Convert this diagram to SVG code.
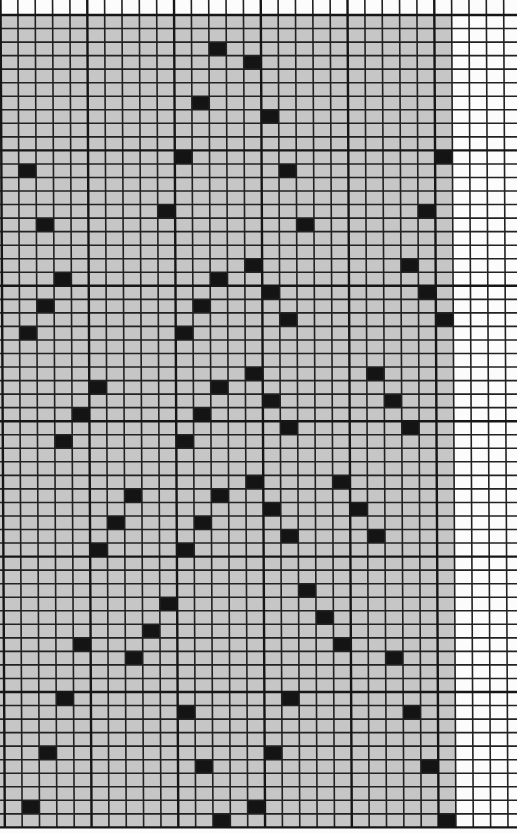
<svg xmlns="http://www.w3.org/2000/svg" width="517" height="833" viewBox="0 0 517 833">
<style>
.bg{fill:#fcfcfc}
.shade{fill:#c6c6c6}
.thin{stroke:#222;stroke-width:1.6;fill:none}
.thick{stroke:#161616;stroke-width:2.4;fill:none}
.k{fill:#141414}
</style>
<defs>
<rect id="cell" width="17.35" height="13.54"/>
</defs>
<rect class="bg" x="0" y="0" width="517" height="833"/>
<g id="grid" transform="skewX(0.3)">
<rect class="shade" x="-10" y="15" width="461.6" height="812.4"/>
<g id="cells" class="k">
<use href="#cell" x="208.7" y="42.08"/>
<use href="#cell" x="243.4" y="55.62"/>
<use href="#cell" x="191.35" y="96.24"/>
<use href="#cell" x="260.75" y="109.78"/>
<use href="#cell" x="174" y="150.4"/>
<use href="#cell" x="434.25" y="150.4"/>
<use href="#cell" x="17.85" y="163.94"/>
<use href="#cell" x="278.1" y="163.94"/>
<use href="#cell" x="156.65" y="204.56"/>
<use href="#cell" x="416.9" y="204.56"/>
<use href="#cell" x="35.2" y="218.1"/>
<use href="#cell" x="295.45" y="218.1"/>
<use href="#cell" x="243.4" y="258.72"/>
<use href="#cell" x="399.55" y="258.72"/>
<use href="#cell" x="52.55" y="272.26"/>
<use href="#cell" x="208.7" y="272.26"/>
<use href="#cell" x="260.75" y="285.8"/>
<use href="#cell" x="416.9" y="285.8"/>
<use href="#cell" x="35.2" y="299.34"/>
<use href="#cell" x="191.35" y="299.34"/>
<use href="#cell" x="278.1" y="312.88"/>
<use href="#cell" x="434.25" y="312.88"/>
<use href="#cell" x="17.85" y="326.42"/>
<use href="#cell" x="174" y="326.42"/>
<use href="#cell" x="243.4" y="367.04"/>
<use href="#cell" x="364.85" y="367.04"/>
<use href="#cell" x="87.25" y="380.58"/>
<use href="#cell" x="208.7" y="380.58"/>
<use href="#cell" x="260.75" y="394.12"/>
<use href="#cell" x="382.2" y="394.12"/>
<use href="#cell" x="69.9" y="407.66"/>
<use href="#cell" x="191.35" y="407.66"/>
<use href="#cell" x="278.1" y="421.2"/>
<use href="#cell" x="399.55" y="421.2"/>
<use href="#cell" x="52.55" y="434.74"/>
<use href="#cell" x="174" y="434.74"/>
<use href="#cell" x="243.4" y="475.36"/>
<use href="#cell" x="330.15" y="475.36"/>
<use href="#cell" x="121.95" y="488.9"/>
<use href="#cell" x="208.7" y="488.9"/>
<use href="#cell" x="260.75" y="502.44"/>
<use href="#cell" x="347.5" y="502.44"/>
<use href="#cell" x="104.6" y="515.98"/>
<use href="#cell" x="191.35" y="515.98"/>
<use href="#cell" x="278.1" y="529.52"/>
<use href="#cell" x="364.85" y="529.52"/>
<use href="#cell" x="87.25" y="543.06"/>
<use href="#cell" x="174" y="543.06"/>
<use href="#cell" x="295.45" y="583.68"/>
<use href="#cell" x="156.65" y="597.22"/>
<use href="#cell" x="312.8" y="610.76"/>
<use href="#cell" x="139.3" y="624.3"/>
<use href="#cell" x="69.9" y="637.84"/>
<use href="#cell" x="330.15" y="637.84"/>
<use href="#cell" x="121.95" y="651.38"/>
<use href="#cell" x="382.2" y="651.38"/>
<use href="#cell" x="52.55" y="692"/>
<use href="#cell" x="278.1" y="692"/>
<use href="#cell" x="174" y="705.54"/>
<use href="#cell" x="399.55" y="705.54"/>
<use href="#cell" x="35.2" y="746.16"/>
<use href="#cell" x="260.75" y="746.16"/>
<use href="#cell" x="191.35" y="759.7"/>
<use href="#cell" x="416.9" y="759.7"/>
<use href="#cell" x="17.85" y="800.32"/>
<use href="#cell" x="243.4" y="800.32"/>
<use href="#cell" x="208.7" y="813.86"/>
<use href="#cell" x="434.25" y="813.86"/>
</g>
<g id="lines">
<path class="thin" d="M17.85 0V827.4M35.2 0V827.4M52.55 0V827.4M69.9 0V827.4M104.6 0V827.4M121.95 0V827.4M139.3 0V827.4M156.65 0V827.4M191.35 0V827.4M208.7 0V827.4M226.05 0V827.4M243.4 0V827.4M278.1 0V827.4M295.45 0V827.4M312.8 0V827.4M330.15 0V827.4M364.85 0V827.4M382.2 0V827.4M399.55 0V827.4M416.9 0V827.4M451.6 0V827.4M468.95 0V827.4M486.3 0V827.4M503.65 0V827.4"/>
<path class="thin" d="M-10 28.54H530M-10 42.08H530M-10 55.62H530M-10 69.16H530M-10 82.7H530M-10 96.24H530M-10 109.78H530M-10 123.32H530M-10 136.86H530M-10 163.94H530M-10 177.48H530M-10 191.02H530M-10 204.56H530M-10 218.1H530M-10 231.64H530M-10 245.18H530M-10 258.72H530M-10 272.26H530M-10 299.34H530M-10 312.88H530M-10 326.42H530M-10 339.96H530M-10 353.5H530M-10 367.04H530M-10 380.58H530M-10 394.12H530M-10 407.66H530M-10 434.74H530M-10 448.28H530M-10 461.82H530M-10 475.36H530M-10 488.9H530M-10 502.44H530M-10 515.98H530M-10 529.52H530M-10 543.06H530M-10 570.14H530M-10 583.68H530M-10 597.22H530M-10 610.76H530M-10 624.3H530M-10 637.84H530M-10 651.38H530M-10 664.92H530M-10 678.46H530M-10 705.54H530M-10 719.08H530M-10 732.62H530M-10 746.16H530M-10 759.7H530M-10 773.24H530M-10 786.78H530M-10 800.32H530M-10 813.86H530"/>
<path class="thick" d="M0.5 0V827.4M87.25 0V827.4M174 0V827.4M260.75 0V827.4M347.5 0V827.4M434.25 0V827.4"/>
<path class="thick" d="M-10 15H530M-10 150.4H530M-10 285.8H530M-10 421.2H530M-10 556.6H530M-10 692H530M-10 827.4H530"/>
</g>
</g>
</svg>
